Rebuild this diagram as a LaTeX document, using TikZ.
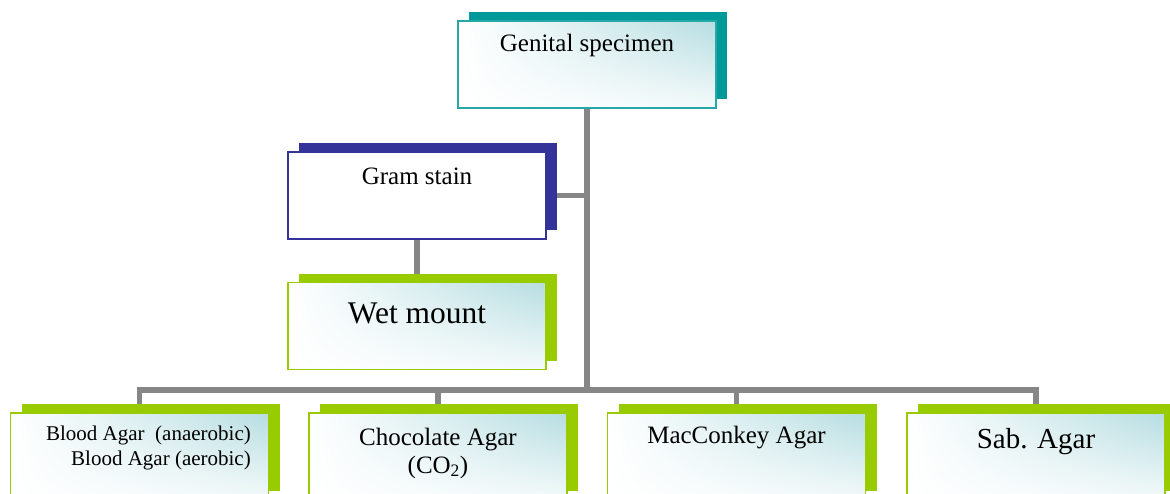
\documentclass[tikz,border=0pt]{standalone}
\usepackage{fontspec}
\setmainfont{Liberation Serif}
\usetikzlibrary{shadows,shadings,backgrounds}

\definecolor{tealc}{HTML}{009999}
\definecolor{navyc}{HTML}{333399}
\definecolor{limec}{HTML}{99CC00}
\definecolor{linkc}{HTML}{868686}
\definecolor{tintc}{HTML}{B6DDE1}

\tikzset{
  box/.style={rectangle, minimum width=258pt, minimum height=87pt, inner sep=0pt,
    line width=1.6pt},
  tinted/.style={shade, upper left=white, upper right=tintc,
    lower left=white, lower right=tintc!15!white},
  backing/.style={drop shadow={shadow xshift=11pt, shadow yshift=9pt,
    fill=#1, opacity=1}},
  tealbox/.style={box, draw=tealc!85!white, tinted, backing=tealc},
  navybox/.style={box, draw=navyc, fill=white, backing=navyc},
  limebox/.style={box, draw=limec, tinted, backing=limec},
  link/.style={draw=linkc, line width=5.5pt},
  lbl/.style={font=\fontsize{25}{28}\selectfont, align=center, inner sep=0pt},
}

\begin{document}
\begin{tikzpicture}[x=1pt, y=-1pt]
  \useasboundingbox (0,0) rectangle (1170,493);
  \clip (0,0) rectangle (1170,493);

  % boxes
  \node[tealbox] (gen)   at (587,64.5)   {};
  \node[navybox] (gram)  at (417,195.5)  {};
  \node[limebox] (wet)   at (417,326)    {};
  \node[limebox] (blood) at (139.5,456.5) {};
  \node[limebox] (choc)  at (438,456.5)  {};
  \node[limebox] (mac)   at (736.5,456.5) {};
  \node[limebox] (sab)   at (1036,456.5) {};

  % labels
  \node[lbl] (gen-t)  at (587,45)  {Genital specimen};
  \node[lbl] (gram-t) at (417,176) {Gram stain};
  \node[lbl, font=\fontsize{31.5}{34}\selectfont] (wet-t) at (417,313) {Wet mount};
  \node[lbl, align=right, anchor=east, font=\fontsize{21}{25}\selectfont]
    (blood-t) at (251,447.5) {Blood Agar\ \ (anaerobic)\\Blood Agar (aerobic)};
  \node[lbl] (choc-t) at (438,453) {Chocolate Agar\\(CO\textsubscript{2})};
  \node[lbl] (mac-t)  at (736.5,438) {MacConkey Agar};
  \node[lbl, font=\fontsize{29}{32}\selectfont] (sab-t) at (1036,442) {Sab. Agar};

  % connectors
  \coordinate (bus) at (587,390);
  \begin{scope}[on background layer]
    \draw[link] (gen.south) -- (bus);
    \draw[link] (gram.east) -- (gen.south |- gram.east);
    \draw[link] (gram.south) -- (wet.north);
    \draw[link] (blood.north) -- (blood.north |- bus) -- (sab.north |- bus) -- (sab.north);
    \draw[link] (choc.north) -- (choc.north |- bus);
    \draw[link] (mac.north) -- (mac.north |- bus);
  \end{scope}
\end{tikzpicture}
\end{document}
